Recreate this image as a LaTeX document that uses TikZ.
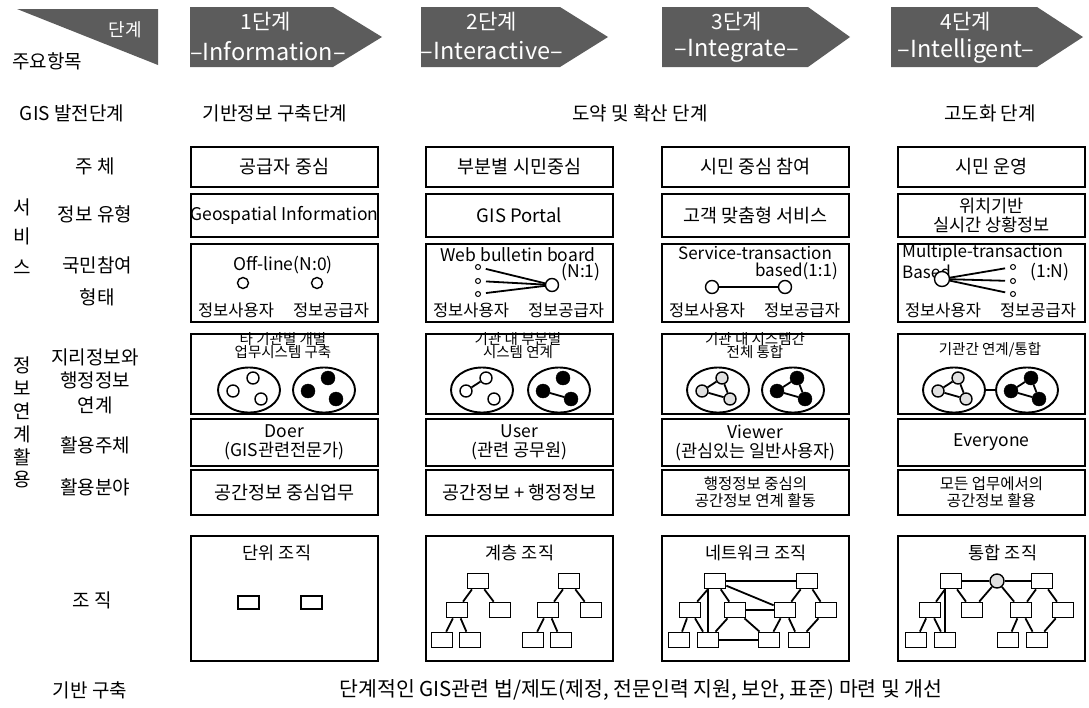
\documentclass[tikz,border=0pt]{standalone}
\usepackage{fontspec}
\setmainfont{Noto Sans CJK KR}
\usetikzlibrary{shapes.geometric}
\definecolor{hdr}{gray}{0.36}
\newcommand{\grp}[5]{%
  \node[ell] (#1) at (#2,#3) {};
  \begin{scope}[shift={(#2,#3)}]
    \node[#4] (#1a) at (-16,1) {};
    \node[#4] (#1b) at (4,-12) {};
    \node[#4] (#1c) at (12,9) {};
  \end{scope}
}
\begin{document}
\begin{tikzpicture}[x=1pt,y=-1pt,
 bx/.style={draw,line width=1.9pt,inner sep=0pt,anchor=north west,minimum width=187},
 tx/.style={font=\fontsize{18.5}{21}\selectfont,inner sep=0pt,align=center},
 tl/.style={font=\fontsize{19}{21}\selectfont,inner sep=0pt,align=center},
 tm/.style={font=\fontsize{17.5}{19}\selectfont,inner sep=0pt,align=center},
 tn/.style={font=\fontsize{16.5}{18}\selectfont,inner sep=0pt,align=center},
 ts/.style={font=\fontsize{15.5}{17}\selectfont,inner sep=0pt,align=center},
 tk/.style={font=\fontsize{14.5}{13}\selectfont,inner sep=0pt,align=center},
 hw/.style={text=white,inner sep=0pt},
 ell/.style={draw,ellipse,line width=1.9pt,minimum width=62,minimum height=45,inner sep=0pt},
 oc/.style={draw,circle,line width=1.4pt,fill=white,minimum size=12,inner sep=0pt},
 og/.style={oc,fill=black!12},
 fc/.style={draw,circle,fill=black,minimum size=14,inner sep=0pt},
 dt/.style={draw,circle,line width=1pt,fill=white,minimum size=5,inner sep=0pt},
 ln/.style={line width=1.8pt},
 ob/.style={draw,line width=1.7pt,fill=white,minimum width=21,minimum height=15,inner sep=0pt},
]
\useasboundingbox (0,0) rectangle (1089,707);
% ---------- header ----------
\fill[hdr] (17,9) -- (158,9) -- (158,65) -- cycle;
\node[hw,font=\fontsize{18}{18}\selectfont] (hs) at (125,30) {단계};
\node[tl] (hm) at (47,61) {주요항목};
\fill[hdr] (190,7) -- (333,7) -- (382,37) -- (333,67) -- (190,67) -- cycle;
\fill[hdr] (421,7) -- (560,7) -- (608,37) -- (560,67) -- (421,67) -- cycle;
\fill[hdr] (662,7) -- (808,7) -- (850,37) -- (808,67) -- (662,67) -- cycle;
\fill[hdr] (891,7) -- (1037,7) -- (1083,37) -- (1037,67) -- (891,67) -- cycle;
\node[hw,font=\fontsize{21}{21}\selectfont] (s1a) at (266,22) {1단계};
\node[hw,font=\fontsize{23.5}{24}\selectfont] (s1b) at (268,51) {–Information–};
\node[hw,font=\fontsize{21}{21}\selectfont] (s2a) at (492,22) {2단계};
\node[hw,font=\fontsize{23.5}{24}\selectfont] (s2b) at (492,51) {–Interactive–};
\node[hw,font=\fontsize{21}{21}\selectfont] (s3a) at (737,22) {3단계};
\node[hw,font=\fontsize{23.5}{24}\selectfont] (s3b) at (737,51) {–Integrate–};
\node[hw,font=\fontsize{21}{21}\selectfont] (s4a) at (966,22) {4단계};
\node[hw,font=\fontsize{23.5}{24}\selectfont] (s4b) at (966,51) {–Intelligent–};
% ---------- stage names ----------
\node[tl] (n0) at (72,113) {GIS 발전단계};
\node[tl] (n1) at (275,113) {기반정보 구축단계};
\node[tl] (n2) at (640,113) {도약 및 확산 단계};
\node[tl] (n3) at (990,113) {고도화 단계};
% ---------- left labels ----------
\node[tl] (l1) at (95,166) {주 체};
\node[tl] (l2) at (95,214) {정보 유형};
\node[tl] (l3a) at (97,265) {국민참여};
\node[tl] (l3b) at (97,297) {형태};
\node[tl] (v1) at (22,207) {서};
\node[tl] (v2) at (22,236) {비};
\node[tl] (v3) at (22,267) {스};
\node[tl] (l4a) at (95,357) {지리정보와};
\node[tl] (l4b) at (95,380) {행정정보};
\node[tl] (l4c) at (95,405) {연계};
\node[tl] (l5) at (95,445) {활용주체};
\node[tl] (l6) at (95,487) {활용분야};
\node[tl] (l7) at (92,600) {조 직};
\node[tl] (l8) at (90,690) {기반 구축};
\node[tl] (w1) at (22,365) {정};
\node[tl] (w2) at (22,388) {보};
\node[tl] (w3) at (22,411) {연};
\node[tl] (w4) at (22,434) {계};
\node[tl] (w5) at (22,457) {활};
\node[tl] (w6) at (22,480) {용};
% ---------- boxes ----------
\foreach \c/\x in {1/190,2/425,3/661,4/897}{
  \node[bx,minimum height=40] (bz\c) at (\x,146) {};
  \node[bx,minimum height=43] (bi\c) at (\x,193) {};
  \node[bx,minimum height=78] (bp\c) at (\x,243) {};
  \node[bx,minimum height=80] (bg\c) at (\x,333) {};
  \node[bx,minimum height=47] (bu\c) at (\x,418) {};
  \node[bx,minimum height=45] (bf\c) at (\x,469) {};
  \node[bx,minimum height=125] (bo\c) at (\x,535) {};
}
% row: 주체
\node[tx] (tz1) at (bz1) {공급자 중심};
\node[tx] (tz2) at (bz2) {부분별 시민중심};
\node[tx] (tz3) at (bz3) {시민 중심 참여};
\node[tx] (tz4) at (bz4) {시민 운영};
% row: 정보 유형
\node[tx,font=\fontsize{17.5}{20}\selectfont] (ti1) at (bi1) {Geospatial Information};
\node[tx] (ti2) at (bi2) {GIS Portal};
\node[tx] (ti3) at (bi3) {고객 맞춤형 서비스};
\node[tm] (ti4) at (bi4) {위치기반\\실시간 상황정보};
% row: 국민참여 형태
\node[tm] (p1t) at (283,265) {Off-line(N:0)};
\node[oc,minimum size=11] (p1u) at (243,283) {};
\node[oc,minimum size=11] (p1s) at (317,283) {};
\node[tn] (p1a) at (236,310) {정보사용자};
\node[tn] (p1b) at (331,310) {정보공급자};
\node[tm] (p2t) at (518,255) {Web bulletin board};
\node[dt] (p2d1) at (478,267) {};
\node[dt] (p2d2) at (478,281) {};
\node[dt] (p2d3) at (478,294) {};
\node[oc,minimum size=13] (p2h) at (552,285) {};
\draw[ln,shorten <=5pt] (p2d1) -- (p2h);
\draw[ln,shorten <=5pt] (p2d2) -- (p2h);
\draw[ln,shorten <=5pt] (p2d3) -- (p2h);
\node[tm] (p2n) at (581,272) {(N:1)};
\node[tn] (p2a) at (471,310) {정보사용자};
\node[tn] (p2b) at (566,310) {정보공급자};
\node[tm,font=\fontsize{17}{19}\selectfont] (p3t) at (755,253) {Service-transaction};
\node[tm,font=\fontsize{17}{19}\selectfont,anchor=east] (p3n) at (838,271) {based(1:1)};
\node[oc,minimum size=13] (p3u) at (712,287) {};
\node[oc,minimum size=13] (p3s) at (785,287) {};
\draw[ln] (p3u) -- (p3s);
\node[tn] (p3a) at (707,310) {정보사용자};
\node[tn] (p3b) at (802,310) {정보공급자};
\node[tm,font=\fontsize{17}{19}\selectfont,anchor=west] (p4t) at (902,253) {Multiple-transaction};
\node[tm,font=\fontsize{17}{19}\selectfont,anchor=west] (p4n) at (902,272) {Based};
\node[oc,minimum size=15] (p4h) at (942,279) {};
\node[dt] (p4d1) at (1013,267) {};
\node[dt] (p4d2) at (1013,281) {};
\node[dt] (p4d3) at (1013,294) {};
\draw[ln,shorten >=5pt] (p4h) -- (p4d1);
\draw[ln,shorten >=5pt] (p4h) -- (p4d2);
\draw[ln,shorten >=5pt] (p4h) -- (p4d3);
\node[tm] (p4r) at (1050,272) {(1:N)};
\node[tn] (p4a) at (943,310) {정보사용자};
\node[tn] (p4b) at (1038,310) {정보공급자};
% row: 지리정보와 행정정보 연계
\node[tk] (g1a) at (283,339) {타 기관별 개별};
\node[tk] (g1b) at (283,352) {업무시스템 구축};
\grp{q1L}{249}{390}{oc}{}
\grp{q1R}{324}{390}{fc}{}
\node[tk] (g2a) at (518,339) {기관 내 부분별};
\node[tk] (g2b) at (518,352) {시스템 연계};
\grp{q2L}{482}{390}{oc}{}
\grp{q2R}{559}{390}{fc}{}
\draw[ln] (q2La) -- (q2Lb);
\draw[ln] (q2Ra) -- (q2Rc);
\node[tk] (g3a) at (755,339) {기관 내 시스템간};
\node[tk] (g3b) at (755,352) {전체 통합};
\grp{q3L}{718}{390}{og}{}
\grp{q3R}{793}{390}{fc}{}
\draw[ln] (q3La) -- (q3Lb) -- (q3Lc) -- (q3La);
\draw[ln] (q3Ra) -- (q3Rb) -- (q3Rc) -- (q3Ra);
\node[tk] (g4a) at (990,350) {기관간 연계/통합};
\grp{q4L}{954}{390}{og}{}
\grp{q4R}{1027}{390}{fc}{}
\draw[ln] (q4La) -- (q4Lb) -- (q4Lc) -- (q4La);
\draw[ln] (q4Ra) -- (q4Rb) -- (q4Rc) -- (q4Ra);
\draw[ln] (q4L) -- (q4R);
% row: 활용주체
\node[tm] (u1) at (bu1) {Doer\\(GIS관련전문가)};
\node[tm] (u2) at (bu2) {User\\(관련 공무원)};
\node[tm] (u3) at (bu3) {Viewer\\(관심있는 일반사용자)};
\node[tm] (u4) at (bu4) {Everyone};
% row: 활용분야
\node[tx] (f1) at (bf1) {공간정보 중심업무};
\node[tx] (f2) at (bf2) {공간정보 + 행정정보};
\node[ts] (f3) at (bf3) {행정정보 중심의\\공간정보 연계 활동};
\node[ts] (f4) at (bf4) {모든 업무에서의\\공간정보 활용};
% row: 조직
\node[tm] (o1t) at (277,553) {단위 조직};
\node[ob,minimum height=13] (o1a) at (248.5,602.5) {};
\node[ob,minimum height=13] (o1b) at (311.5,602.5) {};
\node[tm] (o2t) at (520,553) {계층 조직};
\foreach \k/\dx in {A/0,B/91}{
  \begin{scope}[shift={(\dx,0)}]
    \node[ob] (h\k r) at (478,581) {};
    \node[ob] (h\k l) at (457,610) {};
    \node[ob] (h\k m) at (500,610) {};
    \node[ob] (h\k x) at (442,640) {};
    \node[ob] (h\k y) at (470,640) {};
  \end{scope}
  \draw[ln] (h\k r) -- (h\k l);
  \draw[ln] (h\k r) -- (h\k m);
  \draw[ln] (h\k l) -- (h\k x);
  \draw[ln] (h\k l) -- (h\k y);
}
\node[tm] (o3t) at (756,553) {네트워크 조직};
\node[ob] (nR1) at (715,581) {};
\node[ob] (nR2) at (807,581) {};
\node[ob] (nM1) at (690,610) {};
\node[ob] (nM2) at (735,610) {};
\node[ob] (nM3) at (785,610) {};
\node[ob] (nM4) at (826,610) {};
\node[ob] (nB1) at (679,640) {};
\node[ob] (nB2) at (708,640) {};
\node[ob] (nB3) at (769,640) {};
\node[ob] (nB4) at (799,640) {};
\draw[ln] (nR1) -- (nR2);
\draw[ln] (nR1) -- (nM1);
\draw[ln] (nR1) -- (nM2);
\draw[ln] (nR1) -- (nM3);
\draw[ln] (nR1.south -| nB2.north) -- (nB2.north);
\draw[ln] (nR2) -- (nM3);
\draw[ln] (nR2) -- (nM4);
\draw[ln] (nM2) -- (nM3);
\draw[ln] (nM1) -- (nB1);
\draw[ln] (nM1) -- (nB2);
\draw[ln] (nM2) -- (nB2);
\draw[ln] (nM2) -- (nB3);
\draw[ln] (nB2) -- (nB3);
\draw[ln] (nM3) -- (nB3);
\draw[ln] (nM3) -- (nB4);
\draw[ln] (nM4) -- (nB4);
\node[tm] (o4t) at (1003,553) {통합 조직};
\node[ob] (iR1) at (951,581) {};
\node[og,minimum size=14] (iC) at (997,581) {};
\node[ob] (iR2) at (1042,581) {};
\node[ob] (iM1) at (930,610) {};
\node[ob] (iM2) at (972,610) {};
\node[ob] (iM3) at (1021,610) {};
\node[ob] (iM4) at (1063,610) {};
\node[ob] (iB1) at (916,640) {};
\node[ob] (iB2) at (945,640) {};
\node[ob] (iB3) at (1008,640) {};
\node[ob] (iB4) at (1037,640) {};
\draw[ln] (iR1) -- (iC);
\draw[ln] (iC) -- (iR2);
\draw[ln] (iR1) -- (iM1);
\draw[ln] (iR1) -- (iM2);
\draw[ln] (iR1.south -| iB2.north) -- (iB2.north);
\draw[ln] (iC) -- (iM2);
\draw[ln] (iC) -- (iM3);
\draw[ln] (iR2) -- (iM3);
\draw[ln] (iR2) -- (iM4);
\draw[ln] (iM1) -- (iB1);
\draw[ln] (iM1) -- (iB2);
\draw[ln] (iM3) -- (iB3);
\draw[ln] (iM3) -- (iB4);
\draw[ln] (iM4) -- (iB4);
% ---------- bottom ----------
\node[tl,font=\fontsize{20.5}{22}\selectfont] (bot) at (641,690) {단계적인 GIS관련 법/제도(제정, 전문인력 지원, 보안, 표준) 마련 및 개선};
\end{tikzpicture}
\end{document}
